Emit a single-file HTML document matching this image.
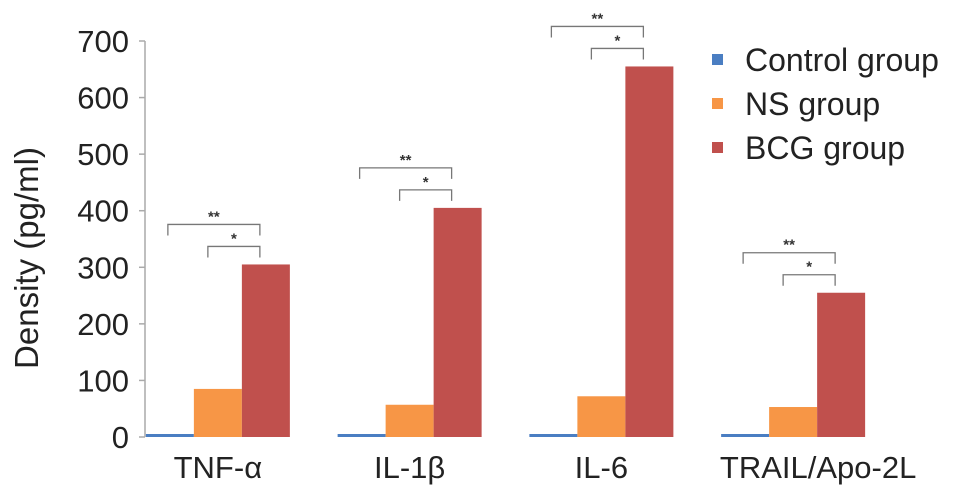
<!DOCTYPE html>
<html><head><meta charset="utf-8"><style>
body{margin:0;background:#fff;}
svg{display:block;font-family:"Liberation Sans",Arial,sans-serif;}
</style></head><body>
<svg id="chart" width="969" height="500"></svg>
<script>
const categories=["TNF-α","IL-1β","IL-6","TRAIL/Apo-2L"];
const controlValues=[5,5,3,3];
const nsValues=[85,57,72,53];
const bcgValues=[305,405,655,255];
const yTicks=[0,100,200,300,400,500,600,700];
const seriesNames=["Control group","NS group","BCG group"];
const colors=["#4a7ec2","#f79646","#c0504d"];
const svg=document.getElementById('chart');
const NS='http://www.w3.org/2000/svg';
function mk(t,a,p){const e=document.createElementNS(NS,t);for(const k in a)e.setAttribute(k,a[k]);(p||svg).appendChild(e);return e;}
const y0=437,yTop=41,yMax=700;
function y(v){return y0-(v/yMax)*(y0-yTop);}
const x0=122,band=191.75,bw=48;
function xc(i){return x0+band*(i+0.5);}
const ax=mk('line',{x1:145,y1:yTop,x2:145,y2:y0,stroke:'#aaa','stroke-width':1.5});


yTicks.forEach(t=>{
 const tk=mk('line',{x1:139,x2:145,y1:y(t),y2:y(t),stroke:'#aaa','stroke-width':1.5});
 
 
 const tx=mk('text',{x:129,y:y(t)+11,'text-anchor':'end','font-size':31,fill:'#222'});
 tx.textContent=t;
 
 
});
const yl=mk('text',{x:0,y:0,transform:'translate(38,258) rotate(-90)','text-anchor':'middle','font-size':33,fill:'#222'});
yl.textContent='Density (pg/ml)';


const series=[controlValues,nsValues,bcgValues];
categories.forEach((c,i)=>{
 const cx=xc(i);
 series.forEach((vals,s)=>{
  const bx=cx-1.5*bw+s*bw;
  const h=Math.max(3,y0-y(vals[i]));
  const r=mk('rect',{x:bx,y:y0-h,width:bw,height:h,fill:colors[s]});
  
  
 });
 const lt=mk('text',{x:cx+(i===3?25:0),y:478,'text-anchor':'middle','font-size':31,fill:'#222'});
 lt.textContent=c;
 
 
 const top=y(bcgValues[i]);
 const xr=cx+42, xl1=cx-50, xl2=cx-10;
 const b1=mk('path',{d:`M${xl1} ${top-29} V${top-40} H${xr} V${top-29}`,fill:'none',stroke:'#777','stroke-width':1.3});
 
 
 const s1=mk('text',{x:(xl1+xr)/2,y:top-43,'text-anchor':'middle','font-size':15,'font-weight':'bold',fill:'#333'});
 s1.textContent='**';
 
 
 const b2=mk('path',{d:`M${xl2} ${top-7} V${top-18} H${xr} V${top-7}`,fill:'none',stroke:'#777','stroke-width':1.3});
 
 
 const s2=mk('text',{x:(xl2+xr)/2,y:top-21,'text-anchor':'middle','font-size':15,'font-weight':'bold',fill:'#333'});
 s2.textContent='*';
 
 
});
seriesNames.forEach((n,s)=>{
 const ly=60+s*44;
 const r=mk('rect',{x:712,y:ly-6,width:11,height:11,fill:colors[s]});
 
 
 const t=mk('text',{x:745,y:ly+11,'font-size':32,fill:'#222'});
 t.textContent=n;
 
 
});
</script>
</body></html>
